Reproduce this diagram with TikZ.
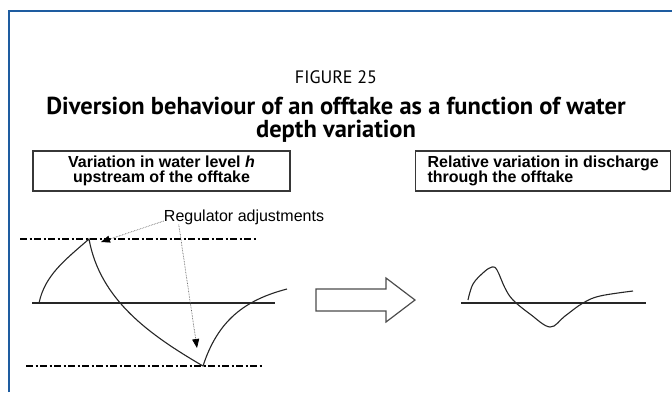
\documentclass[tikz,border=0pt]{standalone}
\usepackage{fontspec}
\setmainfont{Liberation Sans}
\newfontfamily\titlefont{PT Sans}
\usetikzlibrary{arrows.meta}
\definecolor{frameblue}{RGB}{30,92,160}
\definecolor{linegray}{RGB}{55,55,55}

\begin{document}
\begin{tikzpicture}[x=1pt, y=-1pt, >={Triangle[length=9pt,width=7pt,color=black]}, every node/.style={inner sep=0pt}]
\tikzstyle{box}=[draw=linegray, line width=1.2pt, font=\fontsize{16}{15}\selectfont\bfseries, minimum height=40pt]
\tikzstyle{level}=[line width=1.8pt, dash pattern=on 7pt off 2.5pt on 2pt off 2.5pt]
\tikzstyle{curve}=[line width=1.1pt, draw=black!85]
\tikzstyle{leader}=[->, draw=black!60, line width=0.7pt, dash pattern=on 0.7pt off 0.9pt]
\useasboundingbox (0,0) rectangle (672,392);
\draw[frameblue, line width=2pt] (9,392) -- (9,11) -- (672,11);
\node[font=\titlefont\fontsize{18}{22}\selectfont] (fignum) at (336,77) {FIGURE 25};
\node[font=\titlefont\bfseries\fontsize{24.5}{23}\selectfont, align=center] (title) at (336,120) {Diversion behaviour of an offtake as a function of water\\depth variation};
\node[box, minimum width=257pt, align=center] (hbox) at (161.5,171) {Variation in water level \textit{h}\\upstream of the offtake};
\node[box, anchor=west, inner xsep=12pt, align=left] (qbox) at (415,171) {Relative variation in discharge\\through the offtake};
\node[font=\fontsize{16}{18}\selectfont] (adj) at (244,217) {Regulator adjustments};
% water level h
\draw[level] (20,239) -- (257,239);
\draw[level] (26,366) -- (262,366);
\draw[curve] (32,303) -- (275,303);
\draw[curve] (39,303) .. controls (45,275) and (65,260) .. (89,239)
  .. controls (100,300) and (150,335) .. (203,366)
  .. controls (218,320) and (245,300) .. (287,289);
\coordinate (topmark) at (101,242);
\coordinate (botmark) at (197,348);
\draw[leader] ([yshift=-4pt]adj.west) -- (topmark);
\draw[leader] ([xshift=15pt]adj.south west) -- (botmark);
% hollow arrow
\draw[draw=black!70, line width=1.2pt] (316,289) -- (386,289) -- (386,278) -- (415,300) -- (386,322) -- (386,311) -- (316,311) -- cycle;
% discharge
\draw[curve] (461,303) -- (646,303);
\draw[curve] plot[smooth, tension=0.6] coordinates {(468,300) (473,284) (484,272) (492,267) (497,270) (505,288) (513,300) (530,314) (550,327) (565,316) (583,303) (600,296) (633,291)};
\end{tikzpicture}
\end{document}
